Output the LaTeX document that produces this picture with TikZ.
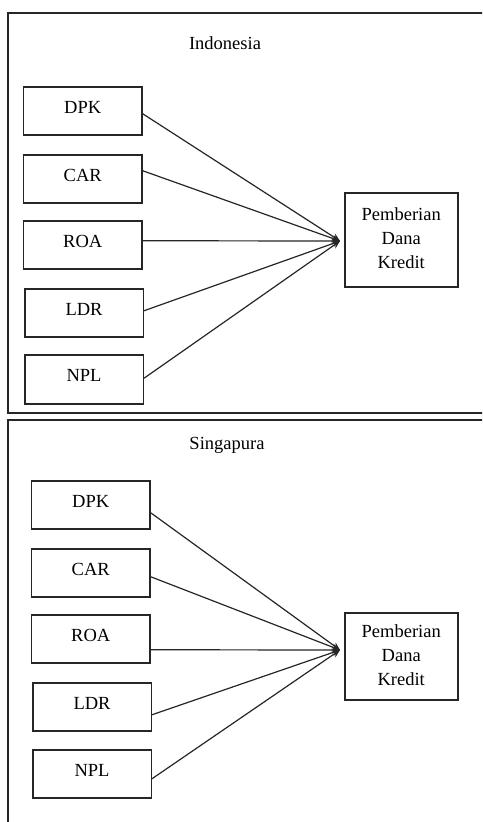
\documentclass[tikz,border=0pt]{standalone}
\usepackage{fontspec}
\setmainfont{Liberation Serif}
\usetikzlibrary{arrows.meta}
\begin{document}
\begin{tikzpicture}[x=1pt,y=-1pt,
  font=\fontsize{18.5}{24}\selectfont,
  frame/.style={draw=black!85, line width=1.5pt},
  varbox/.style={draw=black!85, line width=1.5pt, minimum width=118.5pt, minimum height=48pt, inner sep=0pt, anchor=north west},
  depbox/.style={draw=black!85, line width=1.5pt, minimum width=113pt, inner sep=0pt, anchor=north west, align=center},
  link/.style={draw=black!85, line width=1.2pt, -{Stealth[length=8pt,width=7pt]}}]
\useasboundingbox (0,0) rectangle (482,822);
\fill[white] (0,0) rectangle (482,822);
\clip (0,0) rectangle (482,822);
% frames
\draw[frame] (8,13) rectangle (520,413);
\draw[frame] (8,420) rectangle (520,860);
% ---------- Indonesia ----------
\node (tI) at (225,43) {Indonesia};
\node[varbox] (dpkI) at (22.7,86) {\raisebox{7pt}{DPK}};
\node[varbox] (carI) at (22.7,154) {\raisebox{7pt}{CAR}};
\node[varbox] (roaI) at (22.7,220) {\raisebox{7pt}{ROA}};
\node[varbox] (ldrI) at (24,288) {\raisebox{7pt}{LDR}};
\node[varbox, minimum height=49pt] (nplI) at (24,354) {\raisebox{7pt}{NPL}};
\node[depbox, minimum height=94pt] (pemI) at (344,192) {\raisebox{7pt}{\begin{tabular}{@{}c@{}}Pemberian\\Dana\\Kredit\end{tabular}}};
\coordinate (cI) at (340,241);
\draw[link] ([yshift=-3pt]dpkI.east) -- (cI);
\draw[link] ([yshift=8pt]carI.east) -- (cI);
\draw[link] ([yshift=4pt]roaI.east) -- (cI);
\draw[link] ([yshift=2pt]ldrI.east) -- (cI);
\draw[link] ([yshift=1pt]nplI.east) -- (cI);
% ---------- Singapura ----------
\node (tS) at (227,445) {Singapura};
\node[varbox] (dpkS) at (30.7,480) {\raisebox{7pt}{DPK}};
\node[varbox] (carS) at (30.7,548) {\raisebox{7pt}{CAR}};
\node[varbox] (roaS) at (30.7,614) {\raisebox{7pt}{ROA}};
\node[varbox] (ldrS) at (32,682) {\raisebox{7pt}{LDR}};
\node[varbox] (nplS) at (32,749) {\raisebox{7pt}{NPL}};
\node[depbox, minimum height=87pt] (pemS) at (344,612) {\raisebox{3pt}{\begin{tabular}{@{}c@{}}Pemberian\\Dana\\Kredit\end{tabular}}};
\coordinate (cS) at (340,650);
\draw[link] ([yshift=-8pt]dpkS.east) -- (cS);
\draw[link] ([yshift=-4pt]carS.east) -- (cS);
\draw[link] ([yshift=-11pt]roaS.east) -- (cS);
\draw[link] ([yshift=-8pt]ldrS.east) -- (cS);
\draw[link] ([yshift=-5pt]nplS.east) -- (cS);
\end{tikzpicture}
\end{document}
